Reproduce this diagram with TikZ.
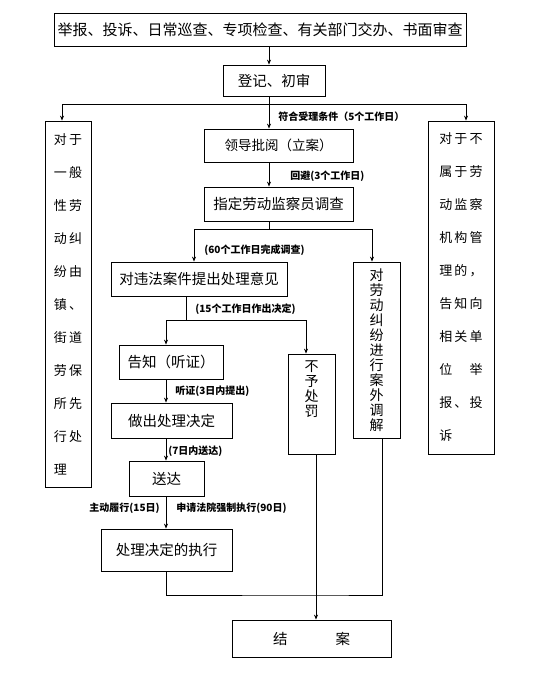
\documentclass[tikz,border=0pt]{standalone}
\usepackage{fontspec}
\setmainfont{Noto Sans CJK SC}
\newfontfamily\sidefont[LetterSpace=16]{Noto Sans CJK SC}
\usetikzlibrary{positioning,arrows.meta}

\begin{document}
\begin{tikzpicture}[x=1pt,y=-1pt,>={Stealth[length=5pt,width=4pt]},line width=0.8pt,
  box/.style={draw,line width=0.8pt,inner sep=0pt,font=\fontsize{14.5}{16}\selectfont},
  side/.style={box,align=left,font=\sidefont\fontsize{13}{33}\selectfont},
  upright/.style={box,align=center,font=\fontsize{14}{15}\selectfont},
  lbl/.style={inner sep=0pt,font=\fontsize{10}{11}\selectfont\bfseries}]
\useasboundingbox (0,0) rectangle (536,684);
\node[box,minimum width=412,minimum height=33] (src) at (260,29.5) {\fontsize{15}{16}\selectfont 举报、投诉、日常巡查、专项检查、有关部门交办、书面审查};
\node[box,minimum width=102,minimum height=31] (reg) at (274,80.5) {登记、初审};
\node[side,minimum width=46,minimum height=366] (local) at (68,304) {对于\\一般\\性劳\\动纠\\纷由\\镇、\\街道\\劳保\\所先\\行处\\理};
\node[side,minimum width=66,minimum height=333] (other) at (461,287.5) {对于不\\属于劳\\动监察\\机构管\\理的，\\告知向\\相关单\\位　举\\报、投\\诉};
\node[box,minimum width=149,minimum height=33] (lead) at (278.5,145.5) {\fontsize{13.5}{15}\selectfont 领导批阅（立案）};
\node[box,minimum width=149,minimum height=34] (assign) at (278.5,204) {指定劳动监察员调查};
\node[box,minimum width=176,minimum height=34] (opin) at (199,279) {对违法案件提出处理意见};
\node[upright,minimum width=47,minimum height=176] (medi) at (376.5,350) {对\\劳\\动\\纠\\纷\\进\\行\\案\\外\\调\\解};
\node[box,minimum width=104,minimum height=34] (notice) at (171,362) {告知（听证）};
\node[box,minimum width=47,minimum height=100] (nopen) at (311.5,404) {};
\node[align=center,inner sep=0pt,font=\fontsize{14}{15}\selectfont] (nopentxt) at (311.5,389.5) {不\\予\\处\\罚};
\node[box,minimum width=121,minimum height=35] (decide) at (171.5,420.5) {做出处理决定};
\node[box,minimum width=75,minimum height=35] (deliver) at (166.5,478.5) {送达};
\node[box,minimum width=131,minimum height=42] (exec) at (166.5,550) {处理决定的执行};
\node[box,minimum width=159,minimum height=37] (close) at (311.5,638.5) {结\hspace{48pt}案};

\node[lbl,anchor=west] (okcond) at (278,117) {符合受理条件（5个工作日）};
\node[lbl,anchor=west] (avoid) at (290,176) {回避(3个工作日)};
\node[lbl,anchor=west] (probe) at (204,250) {(60个工作日完成调查)};
\node[lbl,anchor=west] (rule) at (195,309) {(15个工作日作出决定)};
\node[lbl,anchor=west] (hear) at (175,391) {听证(3日内提出)};
\node[lbl,anchor=west] (send) at (168,451) {(7日内送达)};
\node[lbl,anchor=east] (self) at (160,508) {主动履行(15日)};
\node[lbl,anchor=west] (court) at (176,508) {申请法院强制执行(90日)};

\coordinate (spine) at (269,104);
\coordinate (fork) at (269,229);
\coordinate (fork2) at (186,320);
\coordinate (col) at (166,0);
\coordinate (join) at (316,595);
\draw[->] (src.south -| spine) -- (reg.north -| spine);
\draw (reg.south -| spine) -- (spine);
\draw[->] (spine) -| ([xshift=-6pt]local.north);
\draw[->] (spine) -| ([xshift=5pt]other.north);
\draw[->] (spine) -- (lead.north -| spine);
\draw[->] (lead.south -| spine) -- (assign.north -| spine);
\draw (assign.south -| fork) -- (fork);
\draw[->] (fork) -| ([xshift=-5pt]opin.north);
\draw[->] (fork) -| ([xshift=-4.5pt]medi.north);
\draw (opin.south -| fork2) -- (fork2);
\draw[->] (fork2) -| ([xshift=-5pt]notice.north);
\draw[->] (fork2) -| ([xshift=-5.5pt]nopen.north);
\draw[->] (notice.south -| col) -- (decide.north -| col);
\draw[->] (decide.south -| col) -- (deliver.north -| col);
\draw[->] (deliver.south -| col) -- (exec.north -| col);
\draw (exec.south -| col) |- (join) -| ([xshift=5.5pt]medi.south);
\draw[->] ([xshift=4.5pt]nopen.south) -- (close.north -| join);
\end{tikzpicture}
\end{document}
